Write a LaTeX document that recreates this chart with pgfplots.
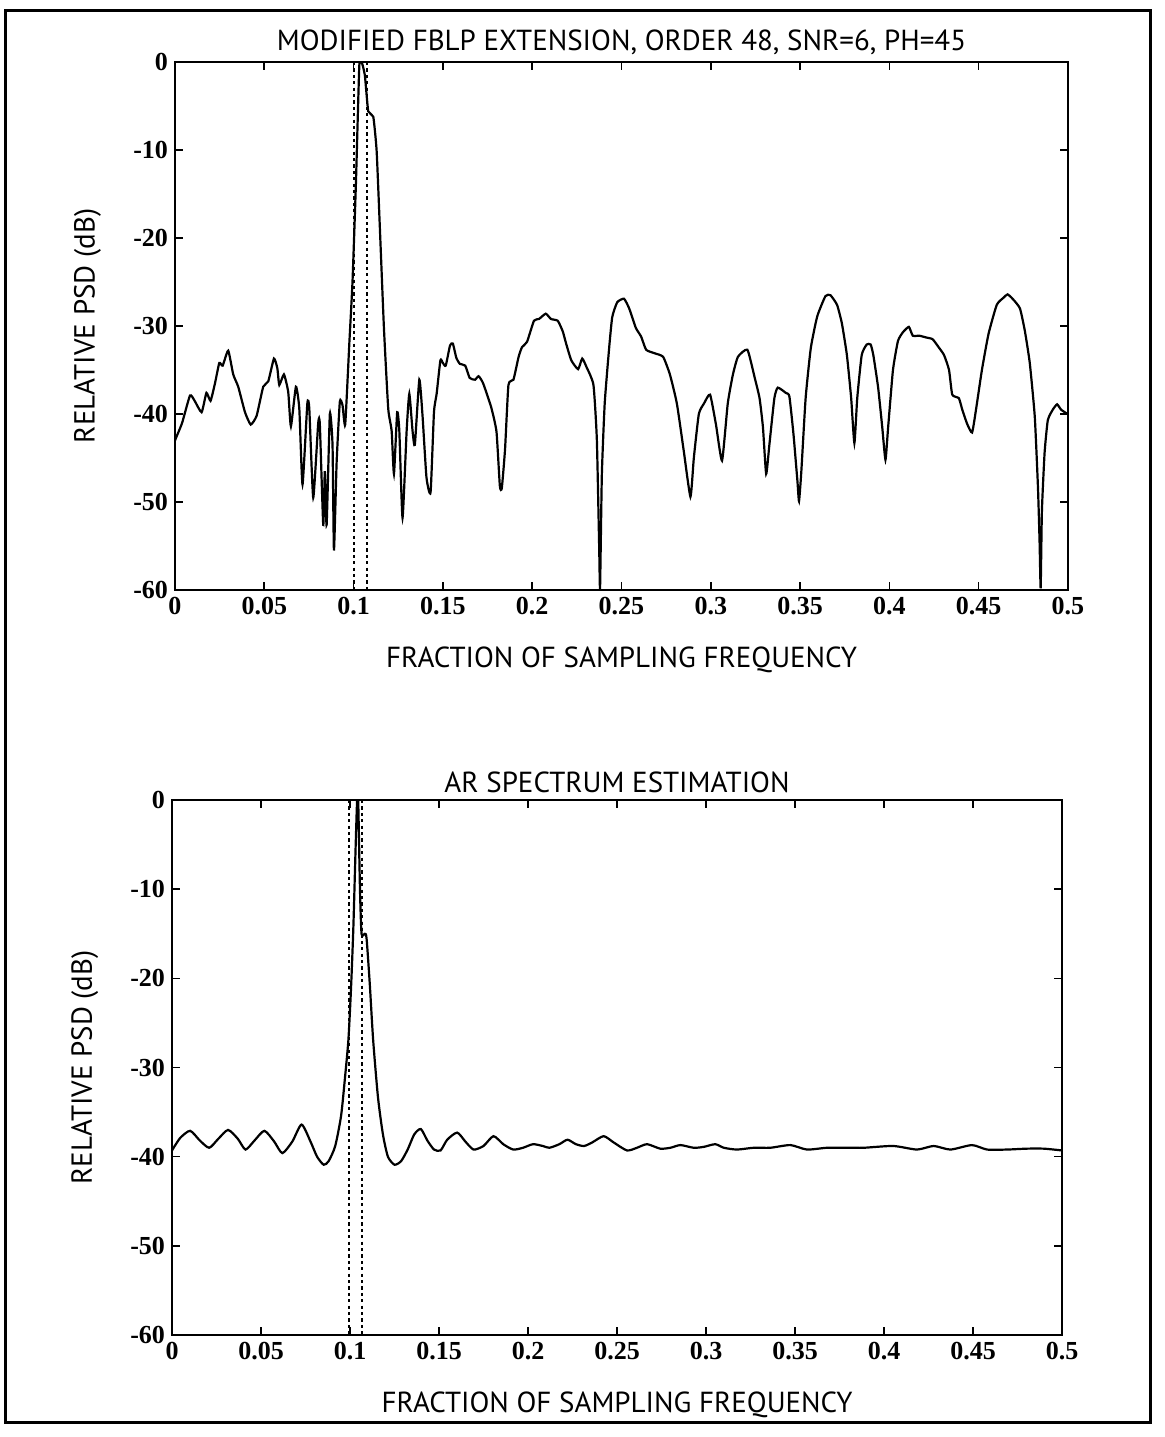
\documentclass[border=0pt]{standalone}
\usepackage{fontspec}
\setmainfont{Liberation Serif}
\newfontfamily\labfont{PT Sans}
\usepackage{pgfplots}
\pgfplotsset{compat=1.18}
\pgfplotsset{psd/.style={
  scale only axis,
  xmin=0,xmax=0.5,ymin=-60,ymax=0,
  xtick={0,0.05,0.1,0.15,0.2,0.25,0.3,0.35,0.4,0.45,0.5},
  xticklabels={0,0.05,0.1,0.15,0.2,0.25,0.3,0.35,0.4,0.45,0.5},
  ytick={-60,-50,-40,-30,-20,-10,0},
  yticklabels={-60,-50,-40,-30,-20,-10,0},
  tick align=inside,
  major tick length=4pt,
  axis line style={line width=1.3pt},
  every tick/.style={black,line width=0.8pt},
  ticklabel style={font=\bfseries\fontsize{13}{14}\selectfont},
  title style={font=\labfont\fontsize{14.5}{16}\selectfont,yshift=-6pt},
  label style={font=\labfont\fontsize{14.5}{16}\selectfont},
  xlabel={FRACTION OF SAMPLING FREQUENCY},
  ylabel={RELATIVE PSD (dB)},
  ylabel style={at={(axis description cs:-0.098,0.5)},anchor=center},
  dotline/.style={black, line width=1.1pt, dash pattern=on 1.6pt off 1.6pt},
}}
\begin{document}
\begin{tikzpicture}
\path (0pt,0pt) rectangle (582pt,-718.5pt);
\draw[line width=1.5pt] (2.5pt,-5pt) rectangle (575pt,-711pt);
\begin{axis}[psd,
  at={(87.5pt,-295pt)}, anchor=south west,
  width=446.5pt, height=264pt,
  title={MODIFIED FBLP EXTENSION, ORDER 48, SNR=6, PH=45},
  xlabel style={at={(axis description cs:0.5,-0.1326)},anchor=center},
]
\addplot[black, line width=1.1pt, smooth, tension=0.3] coordinates {
(0.000,-43.0) (0.001,-42.5) (0.004,-41.0) (0.0084,-37.9) (0.011,-38.5) (0.0149,-39.8)
(0.0176,-37.6) (0.0199,-38.5) (0.0224,-36.5) (0.0248,-34.2) (0.0267,-34.5) (0.0298,-32.8)
(0.0326,-35.5) (0.0354,-36.9) (0.0392,-39.8) (0.0424,-41.2) (0.0457,-40.2) (0.0494,-36.9)
(0.0522,-36.3) (0.0554,-33.7) (0.0573,-34.8) (0.0584,-36.7) (0.0610,-35.5) (0.0634,-37.5)
(0.0649,-41.4) (0.0677,-36.9) (0.0696,-39.4) (0.0714,-48.0) (0.0741,-38.8) (0.0752,-39.4)
(0.0774,-49.5) (0.0802,-41.0) (0.0811,-41.2) (0.0830,-52.6) (0.0839,-46.5) (0.0849,-52.6)
(0.0867,-40.0) (0.0882,-43.5) (0.0890,-55.5) (0.0905,-45.5) (0.0923,-38.6) (0.0938,-39.0)
(0.0953,-41.2) (0.0976,-32.0) (0.0994,-24.9) (0.1013,-13.8) (0.1032,-0.4) (0.1045,0)
(0.1063,-1.5) (0.1082,-5.6) (0.1110,-6.2) (0.1129,-10.1) (0.1147,-18.8) (0.1170,-30.3)
(0.1194,-39.4) (0.1213,-41.9) (0.1226,-46.8) (0.1244,-39.8) (0.1256,-41.9) (0.1274,-51.8)
(0.1297,-41.9) (0.1312,-37.7) (0.1330,-41.9) (0.1343,-43.5) (0.1368,-36.1) (0.1386,-40.2)
(0.1408,-47.2) (0.1431,-48.9) (0.1450,-39.8) (0.1465,-37.7) (0.1486,-33.9) (0.1500,-34.2)
(0.1516,-34.5) (0.1540,-32.2) (0.1556,-32.0) (0.1575,-33.6) (0.1595,-34.3) (0.1625,-34.5)
(0.1650,-35.9) (0.1680,-36.1) (0.1700,-35.7) (0.1725,-36.5) (0.1770,-39.2) (0.1800,-42.0)
(0.1819,-48.2) (0.1830,-48.4) (0.1848,-44.0) (0.1867,-36.7) (0.1895,-36.1) (0.1924,-33.5)
(0.1943,-32.4) (0.1971,-31.8) (0.2010,-29.4) (0.2038,-29.2) (0.2076,-28.6) (0.2105,-29.2)
(0.2143,-29.4) (0.2171,-30.6) (0.2190,-32.0) (0.2219,-33.9) (0.2257,-34.9) (0.2280,-33.7)
(0.2305,-34.7) (0.2343,-36.7) (0.2362,-42.9) (0.2375,-55.1) (0.2380,-59.8) (0.2390,-46.9)
(0.2406,-38.8) (0.2430,-32.7) (0.2448,-29.0) (0.2476,-27.3) (0.2514,-26.9) (0.2543,-28.0)
(0.2580,-30.2) (0.2610,-31.2) (0.2638,-32.7) (0.2686,-33.1) (0.2733,-33.5) (0.2771,-35.5)
(0.2810,-38.8) (0.2848,-44.1) (0.2886,-49.4) (0.2905,-45.0) (0.2933,-40.0) (0.2962,-38.8)
(0.2996,-37.8) (0.3029,-41.2) (0.3063,-45.3) (0.3095,-38.8) (0.3124,-35.5) (0.3152,-33.5)
(0.3205,-32.7) (0.3245,-35.8) (0.3273,-38.2) (0.3292,-41.5) (0.3310,-46.8) (0.3328,-43.5)
(0.3356,-38.2) (0.3375,-37.0) (0.3420,-37.6) (0.3440,-38.0) (0.3463,-42.3) (0.3485,-47.6)
(0.3494,-49.9) (0.3507,-46.5) (0.3531,-38.2) (0.3560,-32.5) (0.3596,-28.9) (0.3642,-26.6)
(0.3670,-26.5) (0.3707,-27.6) (0.3734,-29.7) (0.3762,-33.3) (0.3786,-38.2) (0.3804,-43.3)
(0.3820,-38.2) (0.3845,-33.3) (0.3873,-32.1) (0.3895,-32.1) (0.3910,-33.3) (0.3937,-37.0)
(0.3960,-41.5) (0.3978,-45.2) (0.3993,-41.5) (0.4020,-35.0) (0.4048,-31.7) (0.4076,-30.7)
(0.4109,-30.1) (0.4131,-31.1) (0.4168,-31.1) (0.4205,-31.3) (0.4242,-31.5) (0.4279,-32.5)
(0.4306,-33.3) (0.4334,-35.0) (0.4352,-37.8) (0.4389,-38.2) (0.4408,-39.5) (0.4435,-41.1)
(0.4463,-42.1) (0.4485,-39.5) (0.4518,-35.0) (0.4555,-30.9) (0.4601,-27.6) (0.4638,-26.8)
(0.4662,-26.4) (0.4694,-27.0) (0.4731,-28.0) (0.4758,-30.5) (0.4786,-34.2) (0.4814,-40.3)
(0.4832,-48.4) (0.4841,-54.6) (0.4847,-59.8) (0.4854,-51.0) (0.4869,-44.4) (0.4887,-40.7)
(0.4915,-39.5) (0.4939,-38.9) (0.4961,-39.5) (0.4990,-39.9) (0.5,-40.0)
};
\addplot[dotline] coordinates {(0.1004,0) (0.1004,-60)};
\addplot[dotline] coordinates {(0.1077,0) (0.1077,-60)};
\end{axis}
\begin{axis}[psd,
  at={(86pt,-667.5pt)}, anchor=south west,
  width=445pt, height=267.5pt,
  title={AR SPECTRUM ESTIMATION},
  xlabel style={at={(axis description cs:0.5,-0.131)},anchor=center},
]
\addplot[black, line width=1.1pt, smooth, tension=0.4] coordinates {
(0,-39.3) (0.0046,-37.9) (0.0102,-37.1) (0.0157,-38.2) (0.0209,-39.0) (0.026,-38.0)
(0.0315,-37.0) (0.037,-38.0) (0.0413,-39.2) (0.0463,-38.2) (0.0519,-37.1) (0.0574,-38.3)
(0.062,-39.6) (0.0676,-38.3) (0.0728,-36.4) (0.0778,-38.3) (0.0815,-40.0) (0.0852,-40.9)
(0.088,-40.5) (0.0917,-38.8) (0.095,-35.4) (0.0972,-31.1) (0.0991,-26.9) (0.1006,-21.0)
(0.1019,-14.2) (0.1031,-5.7) (0.1040,0) (0.1046,0) (0.1056,-10.0) (0.1065,-15.0)
(0.1083,-15.0) (0.1093,-15.5) (0.1111,-20.6) (0.113,-26.9) (0.1157,-33.3) (0.1185,-37.5)
(0.1213,-40.0) (0.125,-40.9) (0.1287,-40.5) (0.1324,-39.2) (0.1361,-37.5) (0.1398,-36.9)
(0.1435,-38.2) (0.1472,-39.2) (0.1509,-39.3) (0.1546,-38.1) (0.1602,-37.3) (0.1648,-38.3)
(0.1694,-39.2) (0.175,-38.8) (0.1806,-37.7) (0.1861,-38.6) (0.1917,-39.2) (0.1972,-39.0)
(0.2028,-38.6) (0.2083,-38.8) (0.212,-39.0) (0.2176,-38.6) (0.2222,-38.1) (0.2269,-38.6)
(0.2315,-38.8) (0.2361,-38.4) (0.2425,-37.7) (0.2481,-38.4) (0.2556,-39.3) (0.2612,-39.0)
(0.2669,-38.6) (0.2743,-39.1) (0.28,-39.0) (0.2856,-38.7) (0.2931,-39.0) (0.2987,-38.9)
(0.3052,-38.6) (0.31,-39.0) (0.3174,-39.2) (0.3268,-39.0) (0.3361,-39.0) (0.3474,-38.7)
(0.3567,-39.2) (0.368,-39.0) (0.3792,-39.0) (0.3886,-39.0) (0.4052,-38.8) (0.4185,-39.2)
(0.4279,-38.8) (0.4373,-39.2) (0.4494,-38.7) (0.4579,-39.2) (0.4691,-39.2) (0.4803,-39.1)
(0.4897,-39.1) (0.5,-39.3)
};
\addplot[dotline] coordinates {(0.0995,0) (0.0995,-60)};
\addplot[dotline] coordinates {(0.1068,0) (0.1068,-60)};
\end{axis}
\end{tikzpicture}
\end{document}
